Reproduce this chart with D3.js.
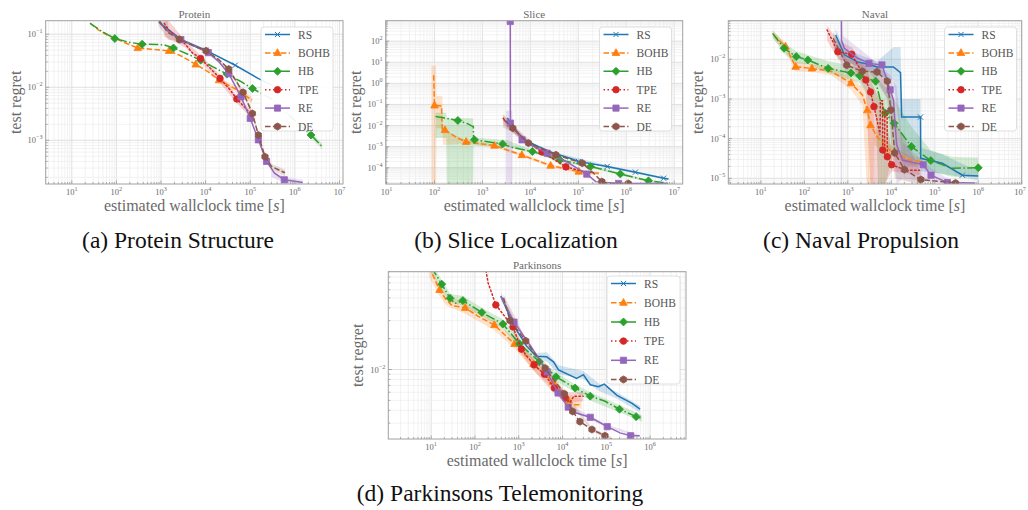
<!DOCTYPE html>
<html>
<head>
<meta charset="utf-8">
<script src="https://cdn.jsdelivr.net/npm/d3@7"></script>
<style>
  body { margin: 0; background: #fff; }
  svg { display: block; }
</style>
</head>
<body>
<script>
/* ---------------------- Variables ---------------------- */
var W = 1028, H = 510;

var methods = ["RS", "BOHB", "HB", "TPE", "RE", "DE"];
var colors = ["#1f77b4", "#ff7f0e", "#2ca02c", "#d62728", "#9467bd", "#8c564b"];
var dashes = [null, "5.5,2.4", "9.6,2.4,1.5,2.4", "1.5,2.5", null, "5.5,2.4"];
var markerTypes = ["x", "tri", "dia", "circ", "sq", "hex"];

// [time, regret, marker?]
// (a) Protein
var protRS = [[890,0.17],[2800,0.08,1],[10000,0.05,1],[46000,0.026,1],[150000,0.0147],[300000,0.011]];
var protBOHB = [[25.6,0.163],[40,0.12],[60,0.098],[92,0.085],[150,0.07],[302,0.055,1],[600,0.052],[1520,0.0486,1],[3000,0.038],[6000,0.027,1],[11000,0.02],[20000,0.0136,1],[50000,0.009],[110000,0.0057]];
var protHB = [[25.6,0.16],[50,0.11],[92,0.083,1],[200,0.07],[378,0.065,1],[800,0.064],[1170,0.063],[1900,0.055,1],[4000,0.042],[7740,0.0324,1],[15000,0.024],[30000,0.0177,1],[60000,0.013],[112000,0.0095,1],[300000,0.006],[800000,0.0028],[2.3e6,0.00126,1],[4.1e6,0.00076]];
var protTPE = [[1180,0.16],[1500,0.12],[2200,0.09],[3500,0.065],[5000,0.045],[7700,0.035,1],[12000,0.024],[21000,0.0147,1],[35000,0.009],[50000,0.006,1],[75000,0.0042],[107000,0.003]];
var protRE = [[890,0.168],[1500,0.11],[2780,0.079,1],[6000,0.058],[11500,0.045,1],[20000,0.03],[33000,0.018,1],[62000,0.0066,1],[100000,0.0026,1],[152000,0.00102,1],[232000,0.0004,1],[350000,0.00024],[580000,0.00018,1],[1.5e6,0.00016]];
var protDE = [[890,0.185],[1400,0.11],[2570,0.08,1],[5000,0.062],[10200,0.0486,1],[20000,0.033],[33000,0.022,1],[69000,0.008,1],[112000,0.0032,1],[152000,0.00126,1],[214000,0.00049,1],[300000,0.00032],[600000,0.000244]];

// (b) Slice
var sliceRS = [[3300,0.023],[4500,0.008],[5900,0.0036],[9000,0.0017],[15000,0.001],[30000,0.0005],[74000,0.00026],[100000,0.0002,1],[400000,0.000115,1],[1.55e6,6.2e-5,1],[6e6,3.2e-5,1],[7.6e6,2.9e-5]];
var sliceBOHB = [[96,2.4],[100,0.09,1],[140,0.085],[145,0.0065],[165,0.0062,1],[300,0.0026],[457,0.0017,1],[1780,0.00112,1],[6640,0.0004,1],[26400,0.000126,1],[102000,6.6e-5,1],[268000,5.5e-5]];
var sliceHB = [[105,0.027],[200,0.021],[307,0.0174,1],[500,0.012],[630,0.0089],[645,0.0089],[655,0.0021],[680,0.0021,1],[2630,0.00135,1],[4000,0.00095],[11000,0.00059,1],[41500,0.000235,1],[180000,0.000114,1],[750000,5.1e-5,1],[2.9e6,2.4e-5,1],[7.6e6,1.8e-5]];
var sliceTPE = [[2700,0.022],[3500,0.012],[4600,0.0063],[7400,0.0021],[17500,0.00056,1],[55000,0.00011,1],[120000,7e-5],[210000,5.8e-5]];
var sliceRE = [[3800,850,1],[3820,0.013,1],[5000,0.006],[6700,0.0021,1],[12000,0.001],[22400,0.00049,1],[60000,0.00018],[150000,5e-5,1],[230000,2.2e-5],[690000,1.8e-5,1],[7e6,1.8e-5]];
var sliceDE = [[2800,0.0186],[4300,0.0075,1],[9100,0.00148,1],[34000,0.00041,1],[120000,0.000166,1],[200000,6e-5],[310000,2.2e-5,1],[400000,1.8e-5],[1.1e6,1.8e-5,1]];

// (c) Naval
var navalRS = [[525,0.041],[835,0.013],[1660,0.0086],[3000,0.0075],[4700,0.0064],[11200,0.0064],[16300,0.0046],[17300,0.00035],[47000,0.00035,1],[47500,3.2e-5],[150000,2.4e-5],[430000,1.2e-5,1],[1e6,1.15e-5]];
var navalBOHB = [[19.5,0.041],[37,0.021,1],[63,0.0065,1],[149,0.0059,1],[410,0.005],[1180,0.0025,1],[2170,0.00126],[2800,0.00052,1],[3330,0.00022,1],[4700,0.000112],[9300,5.1e-5],[26500,2.9e-5],[53000,2.6e-5]];
var navalHB = [[18.6,0.045],[34,0.019,1],[65,0.0117,1],[120,0.0096,1],[352,0.0059,1],[1180,0.0045,1],[1880,0.0038,1],[4350,0.0028,1],[5500,0.001],[7300,0.00044,1],[11600,0.000245,1],[29000,6.3e-5,1],[81000,2.8e-5,1],[250000,1.8e-5],[1e6,1.85e-5,1]];
var navalTPE = [[333,0.055],[590,0.0155,1],[1230,0.0134,1],[1860,0.006],[2600,0.003,1],[3330,0.0015,1],[4000,0.00064,1],[4700,0.0003],[5500,0.000123],[5600,0.0009],[6300,0.0009],[6350,5.2e-5,1],[7000,4e-5],[7100,0.0005],[8000,0.0005],[8100,3.5e-5,1],[10200,2.2e-5,1],[22000,1.6e-5],[45000,1.6e-5]];
var navalRE = [[710,0.2],[715,0.03],[835,0.019],[1660,0.0108],[3070,0.0079,1],[6100,0.0072,1],[9400,0.0017,1],[11200,0.00094],[13300,6.9e-5],[18000,2.9e-5],[54000,2.2e-5,1],[82000,1.2e-5,1],[195000,7.8e-6,1],[850000,7.6e-6]];
var navalDE = [[460,0.034],[950,0.0071,1],[2140,0.005,1],[4700,0.0048,1],[8100,0.0028,1],[9800,0.00053,1],[12000,4.4e-5,1],[20000,1.66e-5,1],[48000,9.3e-6,1],[300000,7.6e-6,1]];

// (d) Parkinsons
var parkRS = [[390,0.052],[800,0.026],[1500,0.017],[2500,0.0135],[4350,0.0133],[6200,0.0119],[8100,0.0099],[21000,0.0082],[30000,0.0089],[43000,0.0071],[66000,0.0068],[90000,0.0072],[175000,0.0056],[380000,0.0047],[590000,0.0041]];
var parkBOHB = [[9,0.1],[15.5,0.0597,1],[22,0.048],[30,0.042],[60,0.04,1],[120,0.033],[277,0.0272,1],[800,0.0178,1],[2170,0.0113,1],[6000,0.0076,1],[13600,0.005,1],[20000,0.0045],[27500,0.0046]];
var parkHB = [[10,0.1],[17.5,0.068,1],[27,0.0495,1],[35,0.044],[53,0.047,1],[144,0.036,1],[434,0.0278,1],[1040,0.0178,1],[2960,0.0119,1],[7100,0.0085,1],[19400,0.0066,1],[43000,0.0055,1],[94000,0.0049],[200000,0.0041,1],[480000,0.00347,1],[650000,0.00334]];
var parkTPE = [[160,0.12],[200,0.07],[300,0.0426,1],[740,0.026,1],[1150,0.0158,1],[2240,0.0111,1],[3870,0.009,1],[6500,0.0066,1],[11500,0.0053,1],[15000,0.0048],[18000,0.0055],[29500,0.0055]];
var parkRE = [[390,0.052],[780,0.029,1],[1800,0.0174],[4450,0.0095,1],[7900,0.0059,1],[13500,0.0043,1],[20500,0.00377],[43000,0.00342,1],[105000,0.00277,1],[205000,0.00241],[360000,0.00226,1],[580000,0.00226]];
var parkDE = [[450,0.05],[630,0.03,1],[1450,0.019,1],[4000,0.0103,1],[11000,0.0058,1],[17000,0.0039,1],[25000,0.0031,1],[47000,0.0026,1],[93000,0.00226,1],[132000,0.0021]];

// spread bands: [time, low, high]
var protBandBOHB = [[20000,0.012,0.015],[50000,0.008,0.0105],[110000,0.005,0.0065]];
var protBandHB = [[1.2e6,0.0022,0.0028],[2.3e6,0.0011,0.0014],[4.1e6,0.00068,0.00086]];
var protBandTPE = [[1180,0.09,0.19],[1500,0.08,0.18],[2200,0.07,0.12],[3500,0.056,0.075],[7700,0.03,0.04],[21000,0.012,0.017],[50000,0.005,0.007],[107000,0.0026,0.0036]];
var protBandRE = [[300000,0.0002,0.00028],[580000,0.00016,0.0002],[1.5e6,0.00014,0.00018]];
var protBandDE = [[890,0.14,0.21],[1400,0.085,0.19],[1500,0.08,0.12],[2570,0.075,0.085],[10200,0.046,0.051],[33000,0.02,0.024],[69000,0.0073,0.0088],[112000,0.0029,0.0035],[152000,0.00115,0.0014],[214000,0.00044,0.00055],[300000,0.00028,0.00036],[600000,0.00021,0.00028]];

var sliceBandRS = [[30000,0.00045,0.00056],[400000,0.0001,0.00013],[7.6e6,2.6e-5,3.3e-5]];
var sliceBandBOHB = [[86,1.5e-5,6.8],[108,1.5e-5,6.8],[110,0.0075,0.25],[146,0.0075,0.25],[150,0.0012,0.006],[457,0.0014,0.0021],[1780,0.00095,0.0013],[6640,0.00034,0.00047],[26400,0.000105,0.00015],[102000,5.5e-5,8e-5],[268000,4.5e-5,6.5e-5]];
var sliceBandHB = [[105,0.0026,0.04],[176,0.0026,0.04],[180,1.2e-5,0.022],[640,1.2e-5,0.022],[650,0.0011,0.0028],[3300,0.00095,0.002],[11000,0.0005,0.0007],[41500,0.0002,0.00028],[180000,0.0001,0.00013],[750000,4.4e-5,5.8e-5],[2.9e6,2.1e-5,2.8e-5],[7.6e6,1.5e-5,2e-5]];
var sliceBandTPE = [[2700,0.012,0.03],[4600,0.004,0.009],[17500,0.00048,0.00065],[55000,9e-5,0.00013]];
var sliceBandRE = [[3100,1.2e-5,0.05],[4200,1.2e-5,0.05],[4300,0.0045,0.012],[6700,0.0017,0.0026],[22400,0.0004,0.0006],[150000,4e-5,6e-5]];
var sliceBandDE = [[2700,0.008,0.035],[4300,0.005,0.012],[9100,0.0013,0.0017],[34000,0.00036,0.00046]];

var navalBandRS = [[525,0.02,0.06],[835,0.009,0.018],[4700,0.004,0.009],[11200,0.003,0.02],[16300,0.0001,0.02],[17300,2e-5,0.001],[47000,2e-5,0.001],[48000,1.5e-5,6e-5],[150000,1.3e-5,4e-5],[1e6,9e-6,1.5e-5]];
var navalBandBOHB = [[19.5,0.033,0.05],[37,0.015,0.026],[63,0.005,0.009],[149,0.0048,0.0075],[410,0.004,0.0065],[1180,0.0017,0.0035],[2170,0.0007,0.002],[2700,7e-6,0.0012],[3800,7e-6,0.0006],[4000,7e-5,0.0002],[9300,3.8e-5,7e-5],[26500,2.2e-5,3.7e-5],[53000,2e-5,3.3e-5]];
var navalBandHB = [[18.6,0.035,0.055],[34,0.014,0.026],[65,0.008,0.016],[120,0.0075,0.013],[352,0.0045,0.009],[1180,0.003,0.007],[1880,0.0025,0.006],[4350,0.0005,0.0045],[5000,7e-6,0.003],[7300,7e-6,0.002],[11600,5e-5,0.001],[29000,3e-5,0.0002],[81000,1.5e-5,5e-5],[250000,1.1e-5,3.5e-5],[1e6,1.1e-5,3.3e-5]];
var navalBandTPE = [[333,0.03,0.07],[590,0.01,0.03],[1230,0.008,0.02],[2600,0.0015,0.006],[3330,7e-6,0.003],[7000,7e-6,0.0005],[10200,1.5e-5,5e-5],[45000,1.2e-5,2e-5]];
var navalBandRE = [[690,7e-6,0.093],[740,7e-6,0.093],[760,0.01,0.04],[3070,0.005,0.012],[9400,0.0008,0.004],[13300,7e-6,0.002],[18000,1e-5,8e-5],[82000,8e-6,1.8e-5],[195000,7e-6,1e-5]];
var navalBandDE = [[460,0.02,0.05],[950,0.004,0.01],[4700,0.003,0.007],[8100,0.001,0.004],[12000,1e-5,0.0003],[48000,7e-6,1.5e-5]];

var parkBandRS = [[2500,0.0125,0.0145],[4350,0.012,0.0147],[8100,0.009,0.011],[30000,0.0081,0.0097],[66000,0.0062,0.0074],[175000,0.0052,0.006],[590000,0.0038,0.0044]];
var parkBandBOHB = [[9,0.08,0.11],[15.5,0.052,0.066],[22,0.042,0.054],[60,0.035,0.044],[277,0.024,0.03],[800,0.016,0.02],[2170,0.0098,0.0125],[6000,0.0066,0.0086],[13600,0.0044,0.0057],[27500,0.0041,0.0052]];
var parkBandHB = [[10,0.088,0.11],[17.5,0.06,0.075],[27,0.045,0.055],[53,0.042,0.052],[144,0.033,0.04],[434,0.025,0.031],[1040,0.016,0.02],[2960,0.0107,0.013],[7100,0.0077,0.0093],[19400,0.006,0.0072],[43000,0.005,0.006],[200000,0.0038,0.0045],[650000,0.0031,0.0036]];
var parkBandTPE = [[740,0.023,0.029],[1150,0.014,0.018],[2240,0.0097,0.0127],[6500,0.0058,0.0075],[11500,0.0047,0.006],[29500,0.0049,0.006]];
var parkBandRE = [[390,0.048,0.057],[780,0.027,0.031],[4450,0.0089,0.01],[13500,0.0041,0.0046],[105000,0.0027,0.0029],[580000,0.0022,0.0023]];
var parkBandDE = [[450,0.046,0.054],[1450,0.018,0.02],[11000,0.0055,0.0061],[47000,0.0025,0.0027],[132000,0.002,0.0022]];

// tick label exponents
var protXExp = [1,2,3,4,5,6,7], protYExp = [-1,-2,-3];
var sliceXExp = [1,2,3,4,5,6,7], sliceYExp = [2,1,0,-1,-2,-3,-4];
var navalXExp = [1,2,3,4,5,6,7], navalYExp = [-2,-3,-4,-5];
var parkXExp = [1,2,3,4,5,6], parkYExp = [-2];

var titles = ["Protein", "Slice", "Naval", "Parkinsons"];
var captions = ["(a) Protein Structure", "(b) Slice Localization", "(c) Naval Propulsion", "(d) Parkinsons Telemonitoring"];

// layout: plot box [left, top, right, bottom], domains, legend box [x, y, w, h], caption position
var panels = [
    {box: [45.7, 20.7, 343, 184], xd: [2.6, 1.2e7], yd: [1.5e-4, 0.18],
     series: [protRS, protBOHB, protHB, protTPE, protRE, protDE],
     bands: [null, protBandBOHB, protBandHB, protBandTPE, protBandRE, protBandDE],
     xExp: protXExp, yExp: protYExp, legend: [261, 27, 72, 104], cap: [178, 248]},
    {box: [385.7, 20.7, 682.7, 184], xd: [9.6, 1.5e7], yd: [1.7e-5, 930],
     series: [sliceRS, sliceBOHB, sliceHB, sliceTPE, sliceRE, sliceDE],
     bands: [sliceBandRS, sliceBandBOHB, sliceBandHB, sliceBandTPE, sliceBandRE, sliceBandDE],
     xExp: sliceXExp, yExp: sliceYExp, legend: [599.5, 27, 72, 104], cap: [516, 248]},
    {box: [728.3, 20.7, 1021.7, 184], xd: [1.78, 1e7], yd: [7.2e-6, 0.094],
     series: [navalRS, navalBOHB, navalHB, navalTPE, navalRE, navalDE],
     bands: [navalBandRS, navalBandBOHB, navalBandHB, navalBandTPE, navalBandRE, navalBandDE],
     xExp: navalXExp, yExp: navalYExp, legend: [944.5, 27, 72, 104], cap: [861, 248]},
    {box: [388.3, 271.7, 686, 439], xd: [1.05, 6.6e6], yd: [0.0021, 0.09],
     series: [parkRS, parkBOHB, parkHB, parkTPE, parkRE, parkDE],
     bands: [parkBandRS, parkBandBOHB, parkBandHB, parkBandTPE, parkBandRE, parkBandDE],
     xExp: parkXExp, yExp: parkYExp, legend: [607, 276, 73, 108], cap: [500, 501]}
];

var textColor = "#6a6a6a";
var serif = "'Liberation Serif', 'Times New Roman', serif";

/* ----------------------- Functions --------------------- */
var svg = d3.select("body").append("svg")
    .attr("width", W)
    .attr("height", H)
    .style("font-family", serif);

svg.append("rect").attr("width", W).attr("height", H).attr("fill", "#fff");

panels.forEach(drawPanel);

function logTicks(domain) {
    var out = [];
    var e0 = Math.floor(Math.log10(domain[0])), e1 = Math.ceil(Math.log10(domain[1]));
    for (var e = e0; e <= e1; e++) {
        for (var k = 1; k <= 9; k++) {
            var v = k * Math.pow(10, e);
            if (v >= domain[0] * 0.999 && v <= domain[1] * 1.001) out.push({v: v, major: k === 1});
        }
    }
    return out;
}

function markerPath(type) {
    if (type === "x") return "M-2.6,-2.6L2.6,2.6M-2.6,2.6L2.6,-2.6";
    if (type === "tri") return "M0,-4.2L3.8,2.6L-3.8,2.6Z";
    if (type === "dia") return "M0,-4L4,0L0,4L-4,0Z";
    if (type === "circ") return d3.symbol(d3.symbolCircle, 34)();
    if (type === "sq") return "M-3.1,-3.1H3.1V3.1H-3.1Z";
    // hexagon, pointy top
    var pts = d3.range(6).map(i => {
        var a = Math.PI / 3 * i - Math.PI / 2;
        return [3.6 * Math.cos(a), 3.6 * Math.sin(a)];
    });
    return "M" + pts.join("L") + "Z";
}

function drawMarker(g, type, color, px, py) {
    g.append("path")
        .attr("d", markerPath(type))
        .attr("transform", `translate(${px},${py})`)
        .attr("fill", type === "x" ? "none" : color)
        .attr("stroke", color)
        .attr("stroke-width", type === "x" ? 1 : 0.8);
}

function supLabel(sel, exp) {
    sel.append("tspan").text("10");
    sel.append("tspan")
        .attr("dy", -4)
        .attr("font-size", 6.2)
        .text(exp < 0 ? "\u2212" + (-exp) : String(exp));
}

function drawPanel(p, pi) {
    var x0 = p.box[0], y0 = p.box[1], x1 = p.box[2], y1 = p.box[3];
    var x = d3.scaleLog().domain(p.xd).range([x0, x1]);
    var y = d3.scaleLog().domain(p.yd).range([y1, y0]);
    var g = svg.append("g");

    var clipId = "clip" + pi;
    g.append("clipPath").attr("id", clipId)
        .append("rect")
        .attr("x", x0).attr("y", y0)
        .attr("width", x1 - x0).attr("height", y1 - y0);

    var xt = logTicks(p.xd), yt = logTicks(p.yd);

    // Grid, minor and major
    var grid = g.append("g");
    grid.selectAll(".gx").data(xt).enter().append("line")
        .attr("x1", d => x(d.v)).attr("x2", d => x(d.v))
        .attr("y1", y0).attr("y2", y1)
        .attr("stroke", d => d.major ? "#dcdcdc" : "#ececec")
        .attr("stroke-width", d => d.major ? 0.9 : 0.7);
    grid.selectAll(".gy").data(yt).enter().append("line")
        .attr("x1", x0).attr("x2", x1)
        .attr("y1", d => y(d.v)).attr("y2", d => y(d.v))
        .attr("stroke", d => d.major ? "#dcdcdc" : "#ececec")
        .attr("stroke-width", d => d.major ? 0.9 : 0.7);

    var plot = g.append("g").attr("clip-path", `url(#${clipId})`);

    // Bands
    p.bands.forEach((b, i) => {
        if (!b) return;
        var area = d3.area()
            .x(d => x(d[0]))
            .y0(d => y(d[1]))
            .y1(d => y(d[2]));
        plot.append("path")
            .attr("d", area(b))
            .attr("fill", colors[i])
            .attr("fill-opacity", 0.2);
    });

    // Lines
    var line = d3.line().x(d => x(d[0])).y(d => y(d[1]));
    p.series.forEach((s, i) => {
        plot.append("path")
            .attr("d", line(s))
            .attr("fill", "none")
            .attr("stroke", colors[i])
            .attr("stroke-width", 1.5)
            .attr("stroke-dasharray", dashes[i])
            .attr("stroke-linecap", i === 3 ? "round" : "butt");
        s.filter(d => d[2]).forEach(d => drawMarker(plot, markerTypes[i], colors[i], x(d[0]), y(d[1])));
    });

    // Ticks (inward)
    var ticks = g.append("g").attr("stroke", "#999").attr("stroke-width", 0.8);
    xt.forEach(d => {
        var len = d.major ? 3.5 : 2;
        ticks.append("line").attr("x1", x(d.v)).attr("x2", x(d.v)).attr("y1", y1).attr("y2", y1 - len);
    });
    yt.forEach(d => {
        var len = d.major ? 3.5 : 2;
        ticks.append("line").attr("x1", x0).attr("x2", x0 + len).attr("y1", y(d.v)).attr("y2", y(d.v));
    });

    // Frame
    g.append("rect")
        .attr("x", x0).attr("y", y0)
        .attr("width", x1 - x0).attr("height", y1 - y0)
        .attr("fill", "none")
        .attr("stroke", "#a0a0a0")
        .attr("stroke-width", 1);

    // Tick labels
    p.xExp.forEach(e => {
        var tx = Math.min(x(Math.pow(10, e)), W - 8);
        var t = g.append("text")
            .attr("x", tx)
            .attr("y", y1 + 11)
            .attr("text-anchor", "middle")
            .attr("font-size", 8.5)
            .attr("fill", textColor);
        supLabel(t, e);
    });
    p.yExp.forEach(e => {
        var t = g.append("text")
            .attr("x", x0 - 3)
            .attr("y", y(Math.pow(10, e)) + 3)
            .attr("text-anchor", "end")
            .attr("font-size", 8.5)
            .attr("fill", textColor);
        supLabel(t, e);
    });

    // Title and axis labels
    g.append("text")
        .attr("x", (x0 + x1) / 2).attr("y", y0 - 3)
        .attr("text-anchor", "middle")
        .attr("font-size", 11)
        .attr("fill", textColor)
        .text(titles[pi]);

    var xl = g.append("text")
        .attr("x", (x0 + x1) / 2).attr("y", y1 + 27)
        .attr("text-anchor", "middle")
        .attr("font-size", 16)
        .attr("fill", textColor);
    xl.append("tspan").text("estimated wallclock time [");
    xl.append("tspan").attr("font-style", "italic").text("s");
    xl.append("tspan").text("]");

    g.append("text")
        .attr("transform", `translate(${x0 - 25},${(y0 + y1) / 2}) rotate(-90)`)
        .attr("text-anchor", "middle")
        .attr("font-size", 16)
        .attr("fill", textColor)
        .text("test regret");

    // Legend
    var lx = p.legend[0], ly = p.legend[1], lw = p.legend[2], lh = p.legend[3];
    var lg = g.append("g");
    lg.append("rect")
        .attr("x", lx).attr("y", ly)
        .attr("width", lw).attr("height", lh)
        .attr("rx", 3)
        .attr("fill", "#fff")
        .attr("fill-opacity", 0.92)
        .attr("stroke", "#d8d8d8")
        .attr("stroke-width", 0.8);
    var step = (lh - 12) / 5;
    methods.forEach((m, i) => {
        var cy = ly + 7.5 + i * step;
        lg.append("line")
            .attr("x1", lx + 4).attr("x2", lx + 29)
            .attr("y1", cy).attr("y2", cy)
            .attr("stroke", colors[i])
            .attr("stroke-width", 1.5)
            .attr("stroke-dasharray", dashes[i]);
        drawMarker(lg, markerTypes[i], colors[i], lx + 16.5, cy);
        lg.append("text")
            .attr("x", lx + 37).attr("y", cy + 4)
            .attr("font-size", 11.5)
            .attr("fill", "#555")
            .text(m);
    });

    // Caption
    svg.append("text")
        .attr("x", p.cap[0]).attr("y", p.cap[1])
        .attr("text-anchor", "middle")
        .attr("font-size", 23.5)
        .attr("fill", "#111")
        .text(captions[pi]);
}
</script>
</body>
</html>
